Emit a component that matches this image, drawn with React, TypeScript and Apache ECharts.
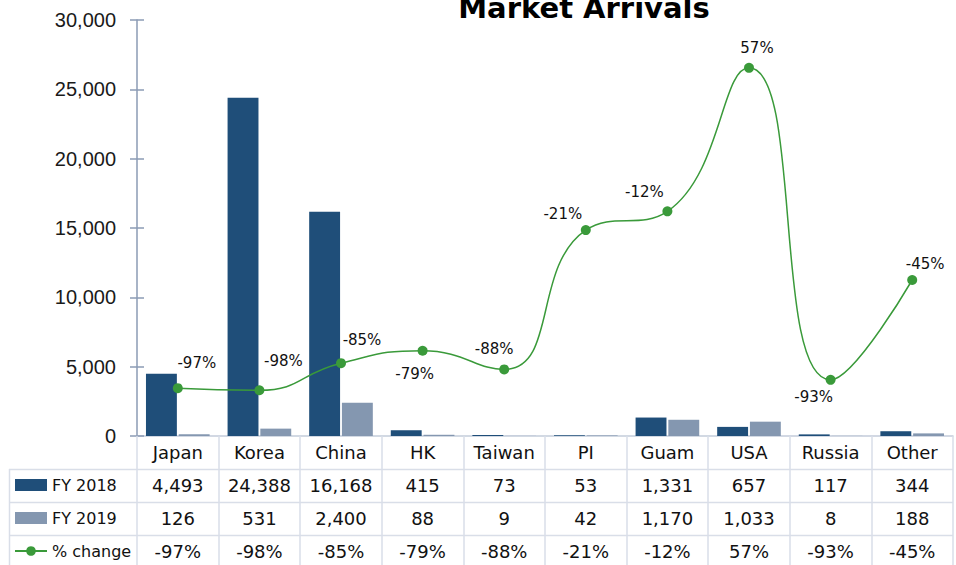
import React, { useEffect, useRef } from "react";
import * as echarts from "echarts";

const categories = ["Japan", "Korea", "China", "HK", "Taiwan", "PI", "Guam", "USA", "Russia", "Other"];
const fy2018 = [4493, 24388, 16168, 415, 73, 53, 1331, 657, 117, 344];
const fy2019 = [126, 531, 2400, 88, 9, 42, 1170, 1033, 8, 188];
const pctChange = [-0.97, -0.98, -0.85, -0.79, -0.88, -0.21, -0.12, 0.57, -0.93, -0.45];
const seriesNames = ["FY 2018", "FY 2019", "% change"];
const yMin = 0;
const yMax = 30000;
const yInterval = 5000;
const pctMin = -1.2;
const pctMax = 0.8;

// label placement offsets (style only)
const labelOffsets: [number, number][] = [
  [19, -25], [24, -29], [21, -23], [-8, 23], [-10, -20],
  [-23, -16], [-23, -19], [8, -20], [-17, 17], [13, -16],
];

const FONT = "DejaVu Sans";
const fmt = (v: number) => v.toLocaleString("en-US");
const fmtPct = (v: number) => Math.round(v * 100) + "%";

const GRID_LEFT = 137;
const GRID_TOP = 20;
const GRID_W = 816;
const GRID_H = 416;
const ROW_H = 33;
const TABLE_LINE = "#d9dee8";

export default function App() {
  const ref = useRef<HTMLDivElement>(null);
  useEffect(() => {
    if (!ref.current) return;
    const chart = echarts.init(ref.current, null, { renderer: "svg" });
    const axisBottom = GRID_TOP + GRID_H;
    const rowAxes = [fy2018, fy2019, pctChange].map((arr, r) => ({
      type: "category",
      data: categories,
      gridIndex: 0,
      position: "bottom",
      offset: ROW_H * (r + 1),
      axisLine: { show: false },
      axisTick: { show: false },
      axisLabel: {
        interval: 0,
        margin: 7,
        fontSize: 18,
        fontFamily: FONT,
        color: "#111",
        formatter: (_v: string, i: number) => (r === 2 ? fmtPct(arr[i]) : fmt(arr[i])),
      },
    }));
    const hLines = [1, 2, 3].map((k) => ({
      type: "line",
      shape: { x1: 9, y1: axisBottom + ROW_H * k + 0.5, x2: GRID_LEFT + GRID_W, y2: axisBottom + ROW_H * k + 0.5 },
      style: { stroke: TABLE_LINE, lineWidth: 1.5 },
      silent: true,
    }));
    chart.setOption({
      animation: false,
      backgroundColor: "#fff",
      grid: { left: GRID_LEFT, top: GRID_TOP, width: GRID_W, height: GRID_H, containLabel: false },
      legend: {
        orient: "vertical",
        left: 14,
        top: 475,
        padding: 0,
        itemWidth: 32,
        itemHeight: 12,
        itemGap: 13,
        selectedMode: false,
        textStyle: { fontSize: 16, lineHeight: 20, fontFamily: FONT, color: "#111" },
        data: [
          { name: seriesNames[0], icon: "rect" },
          { name: seriesNames[1], icon: "rect" },
          { name: seriesNames[2] },
        ],
      },
      xAxis: [
        {
          type: "category",
          data: categories,
          gridIndex: 0,
          position: "bottom",
          axisLine: { show: true, lineStyle: { color: "#c3ccda", width: 1.5 } },
          axisTick: { show: true, length: 129, interval: 0, lineStyle: { color: TABLE_LINE, width: 1.5 } },
          axisLabel: { interval: 0, margin: 7, fontSize: 18, fontFamily: FONT, color: "#111" },
        },
        ...rowAxes,
      ],
      yAxis: [
        {
          type: "value",
          min: yMin,
          max: yMax,
          interval: yInterval,
          position: "left",
          axisLine: { show: true, lineStyle: { color: "#8b9bb4", width: 1.5 } },
          axisTick: { show: true, length: 7, lineStyle: { color: "#8b9bb4", width: 1.5 } },
          splitLine: { show: false },
          axisLabel: {
            margin: 21,
            fontSize: 20,
            fontFamily: "Liberation Sans",
            color: "#1a1a1a",
            formatter: (v: number) => fmt(v),
          },
        },
        { type: "value", min: pctMin, max: pctMax, show: false },
        {
          type: "value",
          min: yMin,
          max: yMax,
          interval: yInterval,
          position: "left",
          axisLine: { show: false },
          axisTick: { show: true, inside: true, length: 7, lineStyle: { color: "#8b9bb4", width: 1.5 } },
          axisLabel: { show: false },
          splitLine: { show: false },
        },
      ],
      series: [
        {
          name: seriesNames[0],
          type: "bar",
          data: fy2018,
          itemStyle: { color: "#1f4e79" },
          barCategoryGap: "22%",
          barGap: "6%",
        },
        {
          name: seriesNames[1],
          type: "bar",
          data: fy2019,
          itemStyle: { color: "#8497b0" },
          barCategoryGap: "22%",
          barGap: "6%",
        },
        {
          name: seriesNames[2],
          type: "line",
          yAxisIndex: 1,
          smooth: 0.5,
          symbol: "circle",
          symbolSize: 10,
          itemStyle: { color: "#3a9a3a" },
          lineStyle: { color: "#3a9a3a", width: 1.5 },
          z: 5,
          data: pctChange.map((v, i) => ({
            value: v,
            label: {
              show: true,
              position: "inside",
              offset: labelOffsets[i],
              formatter: () => fmtPct(v),
              fontSize: 15,
              fontFamily: FONT,
              color: "#111",
            },
          })),
        },
      ],
      graphic: [
        {
          type: "text",
          x: 584,
          y: 8,
          style: {
            text: "Market Arrivals",
            font: "bold 29px 'DejaVu Sans'",
            fill: "#000",
            align: "center",
            verticalAlign: "middle",
          },
        },
        ...hLines,
        {
          type: "line",
          shape: { x1: 9.5, y1: axisBottom + ROW_H, x2: 9.5, y2: 565 },
          style: { stroke: TABLE_LINE, lineWidth: 1.5 },
          silent: true,
        },
      ],
    });
    return () => chart.dispose();
  }, []);
  return <div ref={ref} style={{ position: "fixed", left: 0, top: 0, width: 956, height: 565 }} />;
}
